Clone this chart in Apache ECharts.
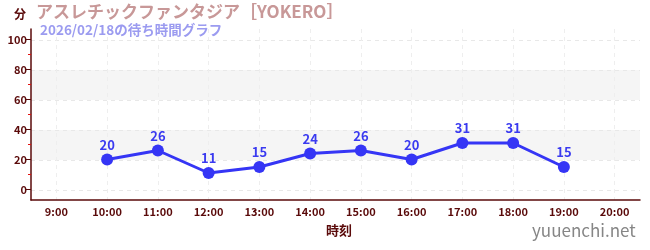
<!DOCTYPE html>
<html><head><meta charset="utf-8">
<script src="https://cdn.jsdelivr.net/npm/echarts@6/dist/echarts.min.js"></script>
<style>html,body{margin:0;padding:0;background:#fff}#c{width:650px;height:250px}</style>
</head><body><div id="c"></div>
<script>
const categories = ['9:00','10:00','11:00','12:00','13:00','14:00','15:00','16:00','17:00','18:00','19:00','20:00'];
const waitTimes = [null,20,26,11,15,24,26,20,31,31,15,null];
const yTickValues = [0,20,40,60,80,100];
const yMinorValues = [10,30,50,70,90];
const titleText = 'アスレチックファンタジア［YOKERO］';
const subText = '2026/02/18の待ち時間グラフ';
const yName = '分';
const xName = '時刻';
const siteText = 'yuuenchi.net';

const FONT = '"Noto Sans CJK JP", "Noto Sans", sans-serif';
const DARK = '#5a0a0a';
const chart = echarts.init(document.getElementById('c'));
chart.setOption({
  animation: false,
  textStyle: {fontFamily: FONT},
  title: [
    {text: titleText, left: 36, top: 3, padding: 0, textStyle: {fontSize: 17, fontWeight: 'bold', color: '#c89898', fontFamily: FONT}},
    {text: subText, left: 40, top: 23, padding: 0, textStyle: {fontSize: 13.5, fontWeight: 'bold', color: '#9b9bf0', fontFamily: FONT}},
    {text: yName, left: 14, top: 8, padding: 0, textStyle: {fontSize: 12, fontWeight: 'bold', color: DARK, fontFamily: FONT}},
    {text: xName, left: 326, top: 224, padding: 0, textStyle: {fontSize: 13, fontWeight: 'bold', color: DARK, fontFamily: FONT}},
    {text: siteText, left: 532, top: 222, padding: 0, textStyle: {fontSize: 17, fontWeight: 'normal', color: '#868686', fontFamily: FONT}}
  ],
  grid: [
    {left: 31, right: 10, top: 29, bottom: 50, containLabel: false},
    {left: 31, right: 10, top: 40, bottom: 60, containLabel: false}
  ],
  xAxis: [
    {type: 'category', gridIndex: 0, data: categories, boundaryGap: true,
     axisLine: {onZero: false, lineStyle: {color: DARK, width: 1.5}},
     axisTick: {inside: true, alignWithLabel: true, length: 3, lineStyle: {color: '#666'}},
     axisLabel: {color: DARK, fontSize: 11, fontWeight: 'bold', margin: 6, fontFamily: FONT},
     splitLine: {show: true, alignWithLabel: true, lineStyle: {color: '#eeeeee', type: [4, 4]}}},
    {type: 'category', gridIndex: 1, data: categories, show: false}
  ],
  yAxis: [
    {type: 'value', gridIndex: 0, min: -7, max: 107,
     axisLine: {show: true, lineStyle: {color: DARK, width: 1.5}},
     axisTick: {show: true, length: 5, customValues: yTickValues, lineStyle: {color: DARK}},
     axisLabel: {color: DARK, fontSize: 11, fontWeight: 'bold', margin: 4, customValues: yTickValues, fontFamily: FONT},
     splitLine: {show: false}},
    {type: 'value', gridIndex: 0, min: -7, max: 107, position: 'left',
     axisLine: {show: false},
     axisTick: {show: true, length: 3, customValues: yMinorValues, lineStyle: {color: '#e01010'}},
     axisLabel: {show: false}, splitLine: {show: false}},
    {type: 'value', gridIndex: 1, min: 0, max: 100, interval: 20,
     axisLine: {show: false}, axisTick: {show: false}, axisLabel: {show: false},
     splitLine: {show: true, lineStyle: {color: '#e8e8e8', type: [4, 4]}},
     splitArea: {show: true, areaStyle: {color: ['rgba(0,0,0,0)', '#f5f5f5']}}}
  ],
  series: [{
    type: 'line', xAxisIndex: 0, yAxisIndex: 0, data: waitTimes,
    symbol: 'circle', symbolSize: 12, connectNulls: false,
    lineStyle: {color: '#3535f5', width: 3},
    itemStyle: {color: '#3535f5'},
    label: {show: true, position: 'top', distance: 2, color: '#3a3af0', fontSize: 13, fontWeight: 'bold', fontFamily: FONT}
  }]
});
</script></body></html>
